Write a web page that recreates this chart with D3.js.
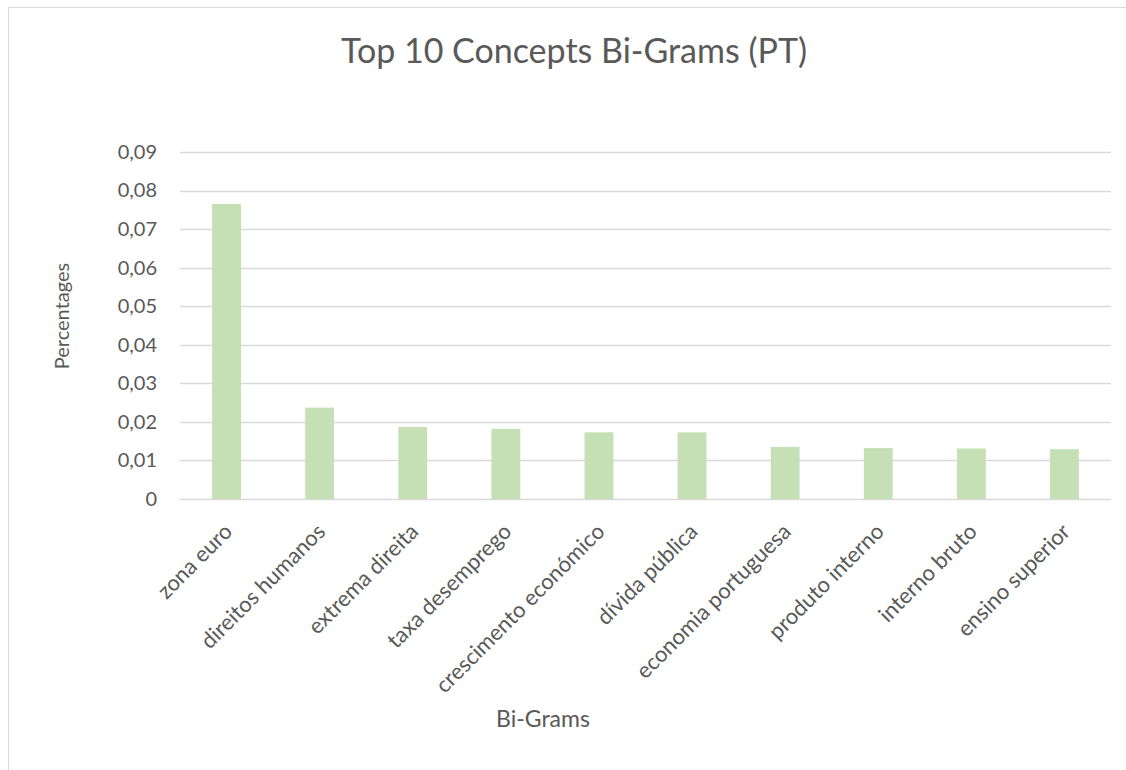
<!DOCTYPE html>
<html>
<head>
<meta charset="utf-8">
<script src="https://cdn.jsdelivr.net/npm/d3@7"></script>
<style>
  body { margin: 0; background: #fff; }
  svg { font-family: Lato, "Open Sans", sans-serif; }
</style>
</head>
<body>
<svg width="1126" height="770"></svg>
<script>
var categories = ["zona euro", "direitos humanos", "extrema direita", "taxa desemprego",
  "crescimento económico", "dívida pública", "economia portuguesa", "produto interno",
  "interno bruto", "ensino superior"];
var values = [0.0765, 0.0237, 0.0187, 0.0182, 0.0173, 0.0173, 0.0135, 0.0132, 0.0131, 0.0129];
var yTicks = [0, 0.01, 0.02, 0.03, 0.04, 0.05, 0.06, 0.07, 0.08, 0.09];

var svg = d3.select("svg");
var margin = {"top": 152, "left": 180, "right": 15, "bottom": 271};
var width = +svg.attr("width") - margin.left - margin.right;
var height = +svg.attr("height") - margin.top - margin.bottom;

// chart frame (right and bottom edges run off the picture)
svg.append("rect")
    .attr("x", 8.5).attr("y", 7.5)
    .attr("width", 1130).attr("height", 780)
    .attr("fill", "#fff")
    .attr("stroke", "#d9d9d9");

var x = d3.scaleBand().domain(categories).range([0, width]).paddingInner(0.69).paddingOuter(0.345);
var y = d3.scaleLinear().domain([0, 0.09]).range([height, 0]);

var g = svg.append("g")
    .attr("transform", "translate(" + margin.left + "," + margin.top + ")");

// gridlines
g.selectAll(".grid").data(yTicks)
  .enter().append("line")
    .attr("class", "grid")
    .attr("x1", 0).attr("x2", width)
    .attr("y1", function(d) { return Math.round(y(d)) + 0.5; })
    .attr("y2", function(d) { return Math.round(y(d)) + 0.5; })
    .attr("stroke", "#d9d9d9")
    .attr("stroke-width", 1.3);

// bars
g.selectAll(".bar").data(values)
  .enter().append("rect")
    .attr("class", "bar")
    .attr("x", function(d, i) { return x(categories[i]); })
    .attr("width", x.bandwidth())
    .attr("y", function(d) { return y(d); })
    .attr("height", function(d) { return height - y(d); })
    .attr("fill", "#c5e0b4");

// y axis labels
var yAxis = g.append("g")
    .attr("class", "y_axis")
    .call(d3.axisLeft(y).tickValues(yTicks).tickSize(0).tickPadding(23)
      .tickFormat(function(d) { return d === 0 ? "0" : d3.format(".2f")(d).replace(".", ","); }));
yAxis.select(".domain").remove();
yAxis.selectAll("text")
    .attr("fill", "#595959")
    .style("font-size", "20px")
    .style("font-family", "Lato, 'Open Sans', sans-serif");

// x axis labels
var xAxis = g.append("g")
    .attr("class", "x_axis")
    .attr("transform", "translate(0," + height + ")")
    .call(d3.axisBottom(x).tickSize(0).tickPadding(0));
xAxis.select(".domain").remove();
xAxis.selectAll("text")
    .attr("fill", "#595959")
    .style("font-size", "22px")
    .style("font-family", "Lato, 'Open Sans', sans-serif")
    .attr("text-anchor", "end")
    .attr("dy", "0")
    .attr("y", 0)
    .attr("transform", "translate(7,34) rotate(-45)");

// title
svg.append("text")
    .attr("x", 574).attr("y", 63)
    .attr("text-anchor", "middle")
    .attr("fill", "#595959")
    .style("font-size", "34px")
    .text("Top 10 Concepts Bi-Grams (PT)");

// axis titles
svg.append("text")
    .attr("x", 543).attr("y", 727)
    .attr("text-anchor", "middle")
    .attr("fill", "#595959")
    .style("font-size", "23px")
    .text("Bi-Grams");

svg.append("text")
    .attr("transform", "translate(69,316) rotate(-90)")
    .attr("text-anchor", "middle")
    .attr("fill", "#595959")
    .style("font-size", "20px")
    .text("Percentages");
</script>
</body>
</html>
